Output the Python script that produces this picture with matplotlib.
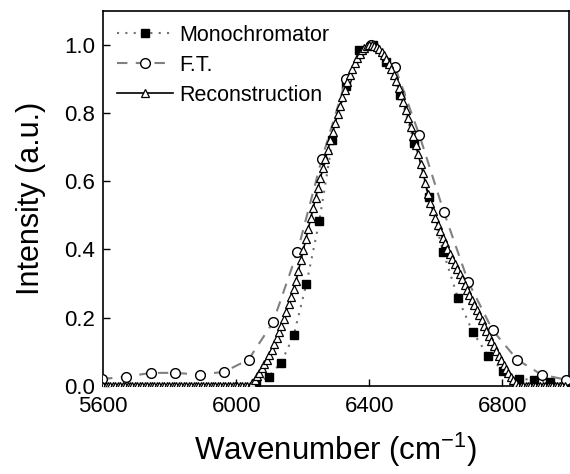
import numpy as np
import matplotlib
matplotlib.use("Agg")
import matplotlib.pyplot as plt

plt.rcParams['font.family'] = ['Liberation Sans', 'DejaVu Sans']
plt.rcParams['mathtext.fontset'] = 'custom'
plt.rcParams['mathtext.rm'] = 'Liberation Sans'
plt.rcParams['mathtext.it'] = 'Liberation Sans:italic'

# Monochromator (10 nm steps)
mono_x = [6060.6, 6097.6, 6135.0, 6172.8, 6211.2, 6250.0, 6289.3, 6329.1, 6369.4,
          6410.3, 6451.6, 6493.5, 6535.9, 6578.9, 6622.5, 6666.7, 6711.4, 6756.8,
          6802.7, 6849.3, 6896.6, 6944.4, 6993.0]
mono_y = [0.009, 0.027, 0.068, 0.148, 0.300, 0.485, 0.720, 0.880, 0.985,
          1.000, 0.950, 0.852, 0.713, 0.553, 0.393, 0.257, 0.157, 0.089,
          0.044, 0.020, 0.018, 0.010, 0.005]

# F.T.
ft_x = [5596.6, 5670.0, 5743.4, 5816.8, 5890.2, 5963.6, 6037.0, 6110.4, 6183.8,
        6257.2, 6330.6, 6404.0, 6477.4, 6550.8, 6624.2, 6697.6, 6771.0, 6844.4,
        6917.8, 6991.2]
ft_y = [0.020, 0.027, 0.038, 0.038, 0.033, 0.041, 0.077, 0.186, 0.393,
        0.665, 0.900, 1.000, 0.935, 0.735, 0.510, 0.305, 0.163, 0.077,
        0.033, 0.018]

# Reconstruction (sampling grid start / step in cm-1)
rec_start = 5600.0
rec_step = 7.34
rec_y = [
    0, 0, 0, 0, 0, 0, 0, 0, 0, 0,
    0, 0, 0, 0, 0, 0, 0, 0, 0, 0,
    0, 0, 0, 0, 0, 0, 0, 0, 0, 0,
    0, 0, 0, 0, 0, 0, 0, 0, 0, 0,
    0, 0, 0, 0, 0, 0, 0, 0, 0, 0,
    0, 0, 0, 0, 0, 0, 0, 0, 0, 0,
    0,
    0.008, 0.018, 0.028, 0.039, 0.051, 0.064, 0.077, 0.090, 0.105, 0.123,
    0.140, 0.158, 0.177, 0.197, 0.218, 0.240, 0.262, 0.285, 0.308, 0.338,
    0.368, 0.399, 0.430, 0.461, 0.492, 0.522, 0.552, 0.581, 0.610, 0.638,
    0.666, 0.693, 0.720, 0.746, 0.771, 0.797, 0.822, 0.846, 0.869, 0.890,
    0.911, 0.930, 0.947, 0.962, 0.974, 0.984, 0.992, 0.997, 1.000, 1.000,
    0.998, 0.994, 0.988, 0.980, 0.970, 0.958, 0.945, 0.930, 0.913, 0.895,
    0.875, 0.854, 0.832, 0.809, 0.785, 0.760, 0.734, 0.707, 0.680, 0.652,
    0.624, 0.596, 0.562, 0.537, 0.514, 0.492, 0.472, 0.453, 0.435, 0.418,
    0.402, 0.387, 0.372, 0.357, 0.342, 0.327, 0.312, 0.297, 0.282, 0.267,
    0.252, 0.237, 0.222, 0.207, 0.192, 0.177, 0.162, 0.147, 0.132, 0.117,
    0.102, 0.088, 0.075, 0.062, 0.050, 0.038, 0.027, 0.017, 0.008, 0.000,
    0, 0, 0, 0, 0, 0, 0, 0, 0, 0,
    0, 0, 0, 0, 0, 0, 0, 0, 0,
]
rec_x = rec_start + rec_step * np.arange(len(rec_y))

x_ticks = [5600, 6000, 6400, 6800]
y_ticks = [0.0, 0.2, 0.4, 0.6, 0.8, 1.0]

fig = plt.figure(figsize=(5.70, 4.74), dpi=100)
ax = fig.add_axes([0.181, 0.186, 0.817, 0.791])

ax.plot(mono_x, mono_y, linestyle=(0, (1, 3)), color='#707070', linewidth=1.5,
        marker='s', markersize=6, markerfacecolor='black', markeredgecolor='black',
        label='Monochromator', zorder=2)
ax.plot(ft_x, ft_y, linestyle=(0, (5, 4)), color='#808080', linewidth=1.5,
        marker='o', markersize=7, markerfacecolor='white', markeredgecolor='black',
        markeredgewidth=1.0, label='F.T.', zorder=3)
ax.plot(rec_x, rec_y, linestyle='-', color='black', linewidth=1.2,
        marker='^', markersize=6, markerfacecolor='white', markeredgecolor='black',
        markeredgewidth=0.9, label='Reconstruction', zorder=4)

ax.set_xlim(5600, 7000)
ax.set_ylim(0, 1.1)
ax.set_xticks(x_ticks)
ax.set_yticks(y_ticks)
ax.set_yticklabels([f"{v:.1f}" for v in y_ticks])
ax.tick_params(axis='both', direction='in', length=5, width=1, labelsize=16,
               top=False, right=False)
ax.tick_params(axis='x', pad=7)
ax.tick_params(axis='y', pad=6)
for s in ax.spines.values():
    s.set_linewidth(1.2)

ax.set_xlabel('Wavenumber (cm$^{-1}$)', fontsize=22.5, labelpad=10)
ax.set_ylabel('Intensity (a.u.)', fontsize=22, labelpad=13)

ax.legend(loc='upper left', frameon=False, fontsize=15.5, handlelength=2.6,
          handletextpad=0.3, labelspacing=0.42, borderaxespad=0.25,
          bbox_to_anchor=(0.0, 1.0))

fig.savefig('out.png', dpi=100)
